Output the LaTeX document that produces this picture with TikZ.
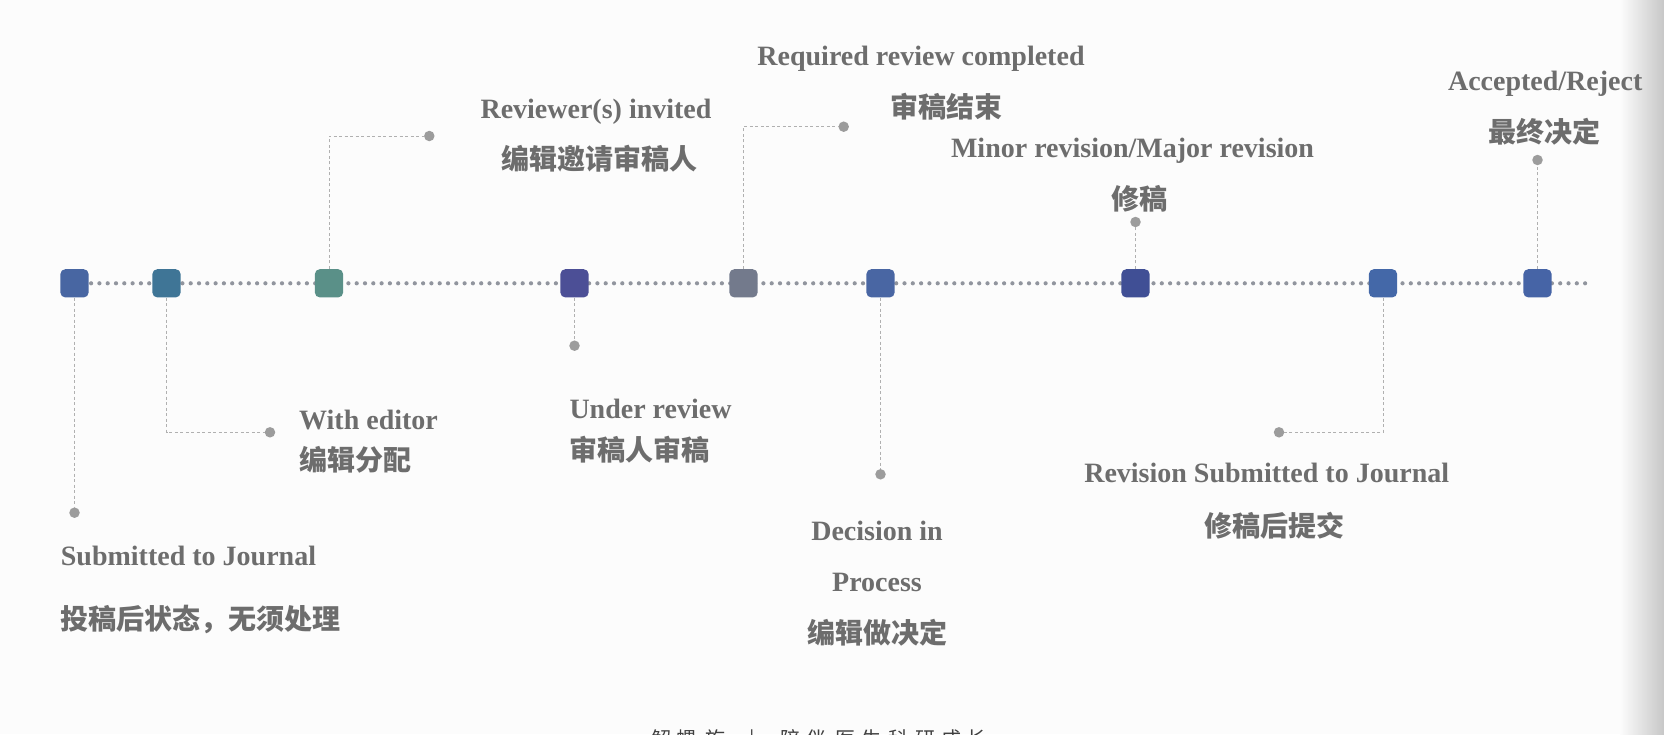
\documentclass[tikz,border=0pt]{standalone}
\usepackage{fontspec}
\setmainfont{Liberation Serif}
\newfontfamily\cjk{Noto Sans CJK SC}
\usetikzlibrary{shapes.geometric}
\definecolor{bgc}{HTML}{FCFCFC}
\definecolor{txt}{HTML}{6D6D6D}
\definecolor{tline}{HTML}{91959E}
\definecolor{conn}{HTML}{B0B0B0}
\definecolor{dotc}{HTML}{9C9C9C}
\definecolor{cA}{HTML}{4866A2}
\definecolor{cB}{HTML}{3F7596}
\definecolor{cC}{HTML}{5A9088}
\definecolor{cD}{HTML}{4C4F96}
\definecolor{cE}{HTML}{737A8C}
\definecolor{cF}{HTML}{4966A3}
\definecolor{cG}{HTML}{404F95}
\definecolor{cH}{HTML}{4468A8}
\definecolor{cI}{HTML}{4664A6}
\tikzset{
  stepbox/.style={rectangle, rounded corners=5pt, minimum width=28.3pt, minimum height=28.3pt, inner sep=0pt, draw=none},
  enddot/.style={circle, fill=dotc, minimum size=10.5pt, inner sep=0pt},
  conline/.style={draw=conn, line width=0.9pt, dash pattern=on 3pt off 2.5pt},
  entext/.style={inner sep=0pt, text=txt, font=\fontsize{28}{34}\selectfont\bfseries},
  zhtext/.style={inner sep=0pt, text=txt, font=\fontsize{28}{34}\selectfont\cjk\bfseries},
  foot/.style={inner sep=0pt, anchor=base, text=black!75, font=\fontsize{20}{24}\selectfont\cjk},
}
\begin{document}
\begin{tikzpicture}[x=1pt, y=-1pt]
\useasboundingbox (0,0) rectangle (1664,734);
\fill[bgc] (0,0) rectangle (1664,734);
\shade[left color=bgc, right color=black!22] (1620,0) rectangle (1664,734);

% timeline
\coordinate (tend) at (1591,283.3);
\coordinate (tstart) at (74.5,283.3);
\draw[tline, line width=4.2pt, line cap=round, dash pattern=on 0pt off 8.3pt] (tstart) -- (tend);

% boxes
\node[stepbox, fill=cA] (b1) at (74.5,283.3) {};
\node[stepbox, fill=cB] (b2) at (166.5,283.3) {};
\node[stepbox, fill=cC] (b3) at (329,283.3) {};
\node[stepbox, fill=cD] (b4) at (574.5,283.3) {};
\node[stepbox, fill=cE] (b5) at (743.5,283.3) {};
\node[stepbox, fill=cF] (b6) at (880.5,283.3) {};
\node[stepbox, fill=cG] (b7) at (1135.5,283.3) {};
\node[stepbox, fill=cH] (b8) at (1383,283.3) {};
\node[stepbox, fill=cI] (b9) at (1537.5,283.3) {};

% end dots
\node[enddot] (d1) at (74.5,512.7) {};
\node[enddot] (d2) at (270,432.3) {};
\node[enddot] (d3) at (429.3,136) {};
\node[enddot] (d4) at (574.5,345.7) {};
\node[enddot] (d5) at (843.7,126.7) {};
\node[enddot] (d6) at (880.5,474.3) {};
\node[enddot] (d7) at (1135.5,222) {};
\node[enddot] (d8) at (1279,432.3) {};
\node[enddot] (d9) at (1537.5,160) {};

% connectors
\draw[conline] (b1) -- (d1);
\draw[conline] (b2.south) |- (d2);
\draw[conline] (b3.north) |- (d3);
\draw[conline] (b4) -- (d4);
\draw[conline] (b5.north) |- (d5);
\draw[conline] (b6) -- (d6);
\draw[conline] (b7) -- (d7);
\draw[conline] (b8.south) |- (d8);
\draw[conline] (b9) -- (d9);

% labels
\node[entext, anchor=base west] (e1) at (60.7,565.7) {Submitted to Journal};
\node[zhtext, anchor=west] (z1) at (60.7,619) {投稿后状态，无须处理};
\node[entext, anchor=base west] (e2) at (299,429.3) {With editor};
\node[zhtext, anchor=west] (z2) at (299,460) {编辑分配};
\node[entext, anchor=base] (e3) at (596,118.3) {Reviewer(s) invited};
\node[zhtext] (z3) at (599.3,159) {编辑邀请审稿人};
\node[entext, anchor=base west] (e4) at (569.3,418.3) {Under review};
\node[zhtext, anchor=west] (z4) at (569,449.7) {审稿人审稿};
\node[entext, anchor=base] (e5) at (921,65) {Required review completed};
\node[zhtext] (z5) at (946.3,107) {审稿结束};
\node[entext, anchor=base] (e6a) at (877,540) {Decision in};
\node[entext, anchor=base] (e6b) at (877,591) {Process};
\node[zhtext] (z6) at (877,633) {编辑做决定};
\node[entext, anchor=base] (e7) at (1132.5,157) {Minor revision/Major revision};
\node[zhtext] (z7) at (1139.5,199) {修稿};
\node[entext, anchor=base] (e8) at (1266.7,482.7) {Revision Submitted to Journal};
\node[zhtext] (z8) at (1274,525.5) {修稿后提交};
\node[entext, anchor=base] (e9) at (1545.2,90) {Accepted/Reject};
\node[zhtext] (z9) at (1544.5,132) {最终决定};

% footer (cut off at the bottom edge, as in the reference)
\node[foot] (f1) at (661.7,746) {解};
\node[foot] (f2) at (686.7,746) {螺};
\node[foot] (f3) at (715,746) {旋};
\node[foot] (f4) at (751.7,746) {|};
\node[foot] (f5) at (790,746) {陪};
\node[foot] (f6) at (816.7,746) {伴};
\node[foot] (f7) at (845,746) {医};
\node[foot] (f8) at (871.7,746) {生};
\node[foot] (f9) at (898,746) {科};
\node[foot] (f10) at (925,746) {研};
\node[foot] (f11) at (951.7,746) {成};
\node[foot] (f12) at (976.7,746) {长};
\end{tikzpicture}
\end{document}
